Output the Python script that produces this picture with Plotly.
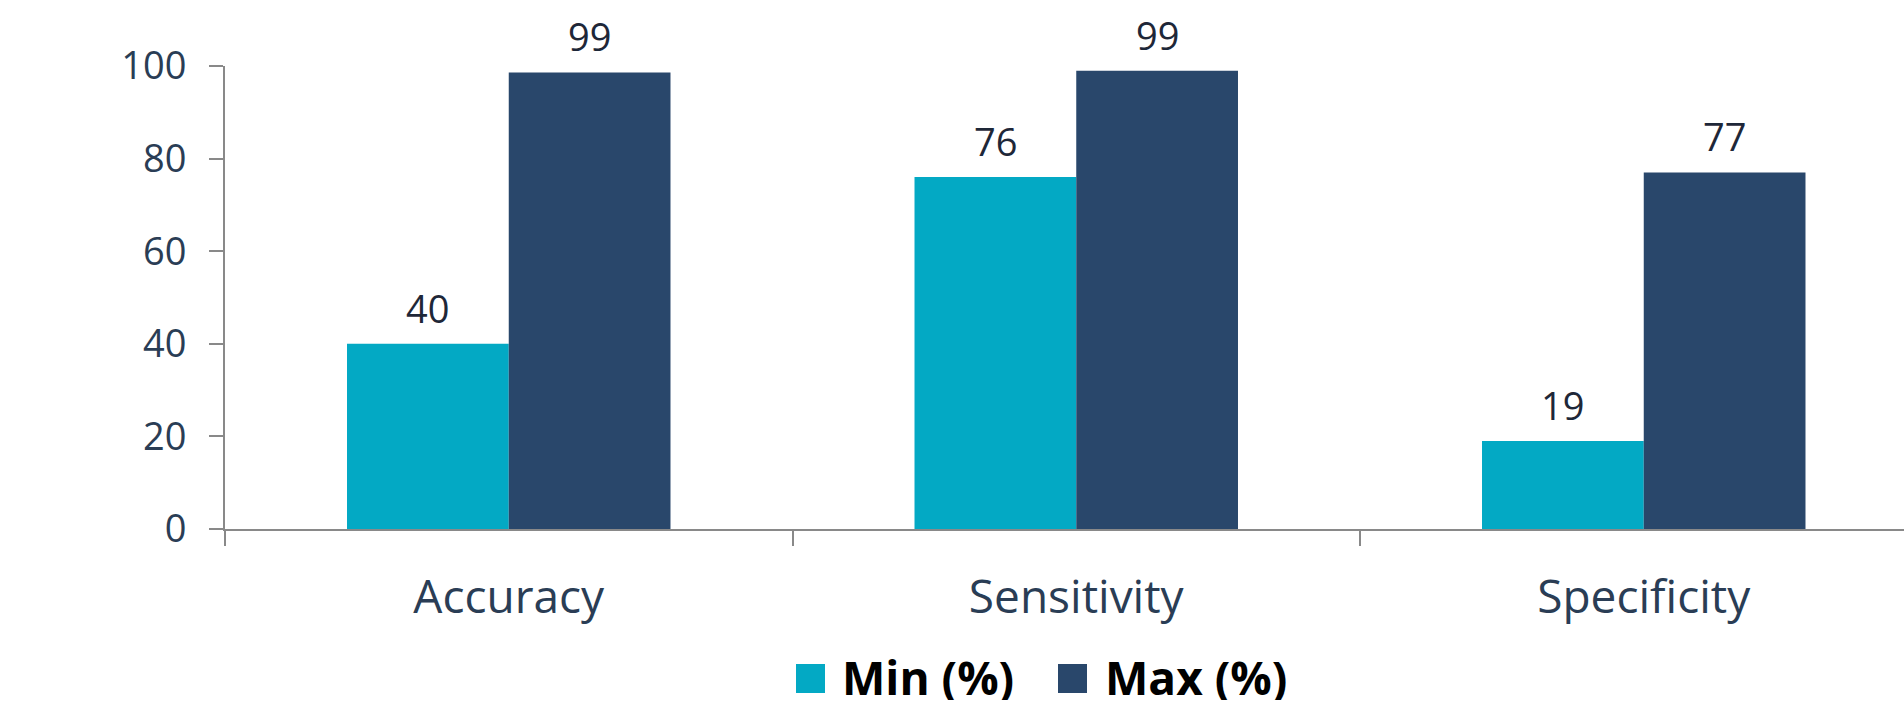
import plotly.graph_objects as go

# Data
categories = ["Accuracy", "Sensitivity", "Specificity"]
min_values = [40, 76, 19]
max_values = [98.6, 99, 77]
series_names = ["Min (%)", "Max (%)"]
series_colors = ["#03A9C4", "#29476B"]
y_ticks = [0, 20, 40, 60, 80, 100]

W, H = 1904, 707
L, R, T, B = 225, 0, 66, 178
plot_w = W - L - R
plot_h = H - T - B
cat_px = 567.5
bar_gap = 0.43
bar_px = cat_px * (1 - bar_gap) / 2

fig = go.Figure()
for name, vals, color in zip(series_names, [min_values, max_values], series_colors):
    fig.add_trace(go.Bar(
        x=categories, y=vals, name=name,
        marker=dict(color=color, line=dict(width=0)),
        showlegend=False, cliponaxis=False,
    ))

# value labels above each bar
annotations = []
for vals, sign in [(min_values, -1), (max_values, 1)]:
    for cat, v in zip(categories, vals):
        annotations.append(dict(
            x=cat, y=v, xref="x", yref="y",
            text=f"{v:.0f}", showarrow=False,
            xshift=sign * bar_px / 2, yshift=8,
            yanchor="bottom", xanchor="center",
            font=dict(family="Open Sans", size=38, color="#1E2738"),
        ))

# legend drawn as squares + bold labels
def px_x(p):
    return (p - L) / plot_w

def px_y(p):
    return (H - B - p) / plot_h

shapes = []
legend_items = [(796, 840), (1058, 1103)]
for (sq_x, tx), name, color in zip(legend_items, series_names, series_colors):
    shapes.append(dict(
        type="rect", xref="paper", yref="paper",
        x0=px_x(sq_x), x1=px_x(sq_x + 29),
        y0=px_y(664), y1=px_y(693),
        fillcolor=color, line=dict(width=0),
    ))
    annotations.append(dict(
        x=px_x(tx), y=px_y(677), xref="paper", yref="paper",
        text=f"<b>{name}</b>", showarrow=False,
        xanchor="left", yanchor="middle", height=46, valign="middle",
        font=dict(family="Open Sans", size=46, color="#000000"),
    ))

fig.update_layout(
    width=W, height=H,
    margin=dict(l=L, r=R, t=T, b=B, pad=0),
    paper_bgcolor="white", plot_bgcolor="white",
    barmode="group", bargap=bar_gap, bargroupgap=0,
    annotations=annotations, shapes=shapes,
    showlegend=False,
    font=dict(family="Open Sans"),
)
fig.update_xaxes(
    type="category",
    range=[-0.5, -0.5 + plot_w / cat_px],
    showline=True, linecolor="#898989", linewidth=2,
    ticks="outside", tickson="boundaries", ticklen=15,
    tickcolor="#898989", tickwidth=2,
    showgrid=False, zeroline=False,
    tickfont=dict(family="Open Sans", size=46, color="#2A3D55"),
    ticklabelstandoff=27,
)
fig.update_yaxes(
    range=[0, 100], tickvals=y_ticks,
    showline=True, linecolor="#898989", linewidth=2,
    ticks="outside", ticklen=14, tickcolor="#898989", tickwidth=2,
    showgrid=False, zeroline=False,
    tickfont=dict(family="Open Sans", size=38, color="#2A3D55"),
    ticklabelstandoff=15,
)

fig.write_html("out.html")
